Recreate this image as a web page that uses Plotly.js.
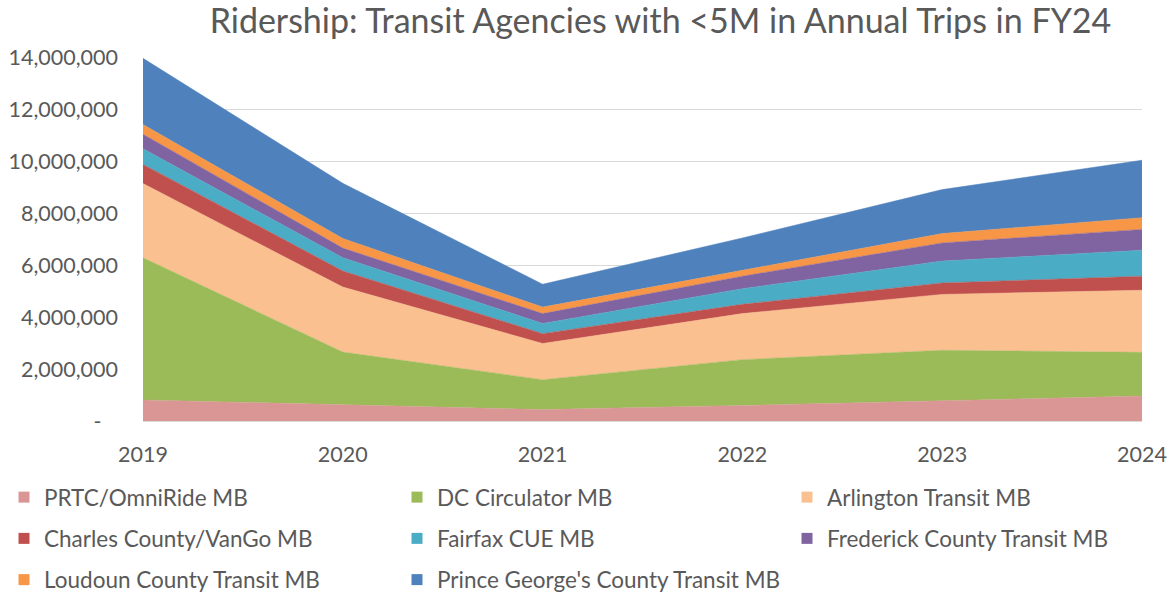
<!DOCTYPE html>
<html>
<head>
<meta charset="utf-8">
<script src="https://cdn.plot.ly/plotly-3.0.1.min.js"></script>
<style>html,body{margin:0;padding:0;background:#fff;}#chart{width:1169px;height:594px;}</style>
</head>
<body>
<div id="chart"></div>
<script>
const years = [2019, 2020, 2021, 2022, 2023, 2024];
const seriesNames = [
  "PRTC/OmniRide MB", "DC Circulator MB", "Arlington Transit MB",
  "Charles County/VanGo MB", "Fairfax CUE MB", "Frederick County Transit MB",
  "Loudoun County Transit MB", "Prince George's County Transit MB"
];
const prtc      = [810000, 630000, 440000, 600000, 770000, 960000];
const dcCirc    = [5470000, 2020000, 1150000, 1760000, 1950000, 1680000];
const arlington = [2850000, 2500000, 1390000, 1770000, 2150000, 2390000];
const charles   = [740000, 620000, 380000, 360000, 440000, 540000];
const fairfax   = [600000, 510000, 390000, 600000, 840000, 1000000];
const frederick = [560000, 370000, 380000, 480000, 700000, 800000];
const loudoun   = [370000, 370000, 250000, 230000, 360000, 450000];
const pgCounty  = [2550000, 2120000, 880000, 1240000, 1690000, 2210000];
const seriesValues = [prtc, dcCirc, arlington, charles, fairfax, frederick, loudoun, pgCounty];
const colors = ["#da9694", "#9bbb59", "#fac090", "#c0504d", "#4bacc6", "#8064a2", "#f79646", "#4f81bd"];
const yTickVals = [0, 2000000, 4000000, 6000000, 8000000, 10000000, 12000000, 14000000];
const yTickText = ["-\u00a0\u00a0\u00a0", "2,000,000", "4,000,000", "6,000,000", "8,000,000", "10,000,000", "12,000,000", "14,000,000"];
// legend laid out in three columns (Excel fills rows left to right)
const legendCols = ["legend", "legend2", "legend3", "legend", "legend2", "legend3", "legend", "legend2"];

const FONT = "Lato, Calibri, Carlito, sans-serif";
const GREY = "#595959";

const traces = [];
seriesNames.forEach((name, i) => {
  traces.push({
    type: "scatter", mode: "lines", name: name, x: years, y: seriesValues[i],
    stackgroup: "one", fillcolor: colors[i],
    line: {color: colors[i], width: 0.5, shape: "linear"},
    showlegend: false, legendgroup: name, hoverinfo: "x+y+name"
  });
});
seriesNames.forEach((name, i) => {
  traces.push({
    type: "scatter", mode: "markers", name: name, x: [null], y: [null],
    marker: {symbol: "square", size: 11, color: colors[i]},
    showlegend: true, legendgroup: name, legend: legendCols[i], hoverinfo: "skip"
  });
});

// plot area: x 143..1142 px, y 57..421 px
function legendDef(xPix) {
  return {
    orientation: "v", xref: "paper", yref: "container",
    x: (xPix - 143) / 999, xanchor: "left", y: 1 - 476 / 594, yanchor: "top",
    itemwidth: 30, tracegroupgap: 9, traceorder: "grouped",
    font: {family: FONT, size: 22.5, color: GREY}, bgcolor: "rgba(0,0,0,0)",
    itemclick: false, itemdoubleclick: false
  };
}

const layout = {
  width: 1169, height: 594,
  margin: {l: 143, r: 27, t: 57, b: 173, pad: 0},
  paper_bgcolor: "#ffffff", plot_bgcolor: "#ffffff",
  font: {family: FONT, color: GREY, size: 21},
  title: {text: "Ridership: Transit Agencies with <5M in Annual Trips in FY24",
          font: {family: FONT, size: 34, color: GREY},
          x: 0.565, xanchor: "center", xref: "container", y: 1 - 21 / 594, yanchor: "middle", yref: "container"},
  xaxis: {
    type: "linear", range: [2019, 2024], tickvals: years, ticktext: years.map(String),
    showgrid: false, zeroline: false, showline: true, linecolor: "#d9d9d9", linewidth: 1,
    ticks: "", ticklabelstandoff: 14, tickfont: {family: FONT, size: 21.5, color: GREY},
    automargin: false, fixedrange: true
  },
  yaxis: {
    range: [0, 14000000], tickvals: yTickVals, ticktext: yTickText,
    showgrid: true, gridcolor: "#d9d9d9", gridwidth: 1, zeroline: false, showline: false,
    ticks: "", ticklabelstandoff: 24, tickfont: {family: FONT, size: 21.5, color: GREY},
    automargin: false, fixedrange: true
  },
  legend: legendDef(4),
  legend2: legendDef(397),
  legend3: legendDef(787),
  showlegend: true
};

Plotly.newPlot("chart", traces, layout, {displayModeBar: false, staticPlot: true});
</script>
</body>
</html>
